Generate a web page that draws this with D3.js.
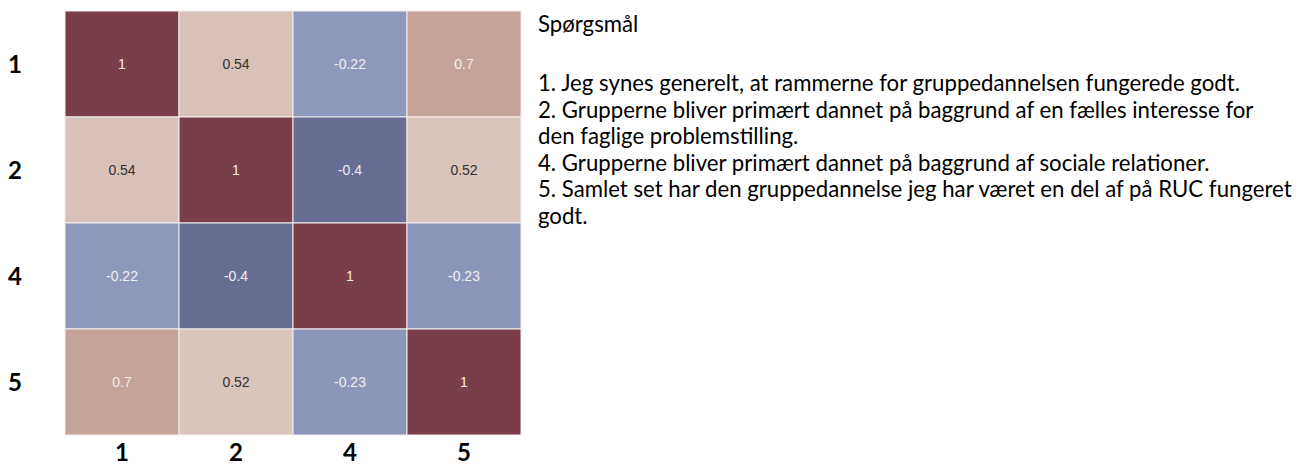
<!DOCTYPE html>
<html>
<head>
<meta charset="utf-8">
<script src="https://cdn.jsdelivr.net/npm/d3@7"></script>
<style>
  html, body { margin: 0; padding: 0; background: #fff; }
  svg { display: block; }
</style>
</head>
<body>
<svg id="chart" width="1312" height="467"></svg>
<script>
// Question numbers used on both axes
const questions = ["1", "2", "4", "5"];

// Correlation matrix, row by row (same order as the questions)
const row1 = [1, 0.54, -0.22, 0.7];
const row2 = [0.54, 1, -0.4, 0.52];
const row4 = [-0.22, -0.4, 1, -0.23];
const row5 = [0.7, 0.52, -0.23, 1];
const matrix = [row1, row2, row4, row5];

// Colour stops for the correlation values
const colorStops = [-0.4, -0.22, 0.52, 0.7, 1];
const colorRange = ["#676d93", "#8d98bb", "#d9c5bc", "#c4a39a", "#7a3e4b"];

// Legend text on the right
const legendTitle = "Spørgsmål";
const legendLines = [
  "1. Jeg synes generelt, at rammerne for gruppedannelsen fungerede godt.",
  "2. Grupperne bliver primært dannet på baggrund af en fælles interesse for",
  "den faglige problemstilling.",
  "4. Grupperne bliver primært dannet på baggrund af sociale relationer.",
  "5. Samlet set har den gruppedannelse jeg har været en del af på RUC fungeret",
  "godt."
];

const svg = d3.select("#chart");

const grid = { left: 65, top: 11, width: 456, height: 424 };

const x = d3.scaleBand().domain(questions).range([grid.left, grid.left + grid.width]).padding(0);
const y = d3.scaleBand().domain(questions).range([grid.top, grid.top + grid.height]).padding(0);
const color = d3.scaleLinear().domain(colorStops).range(colorRange).interpolate(d3.interpolateRgb);

const cells = [];
matrix.forEach((row, i) => row.forEach((v, j) => cells.push({ r: questions[i], c: questions[j], v })));

const g = svg.append("g");

g.selectAll("rect.cell")
  .data(cells)
  .join("rect")
  .attr("class", "cell")
  .attr("x", d => x(d.c))
  .attr("y", d => y(d.r))
  .attr("width", x.bandwidth())
  .attr("height", y.bandwidth())
  .attr("fill", d => color(d.v))
  .attr("stroke", "#f4eeee")
  .attr("stroke-width", 1);

g.selectAll("text.val")
  .data(cells)
  .join("text")
  .attr("class", "val")
  .attr("x", d => x(d.c) + x.bandwidth() / 2)
  .attr("y", d => y(d.r) + y.bandwidth() / 2)
  .attr("dy", "0.35em")
  .attr("text-anchor", "middle")
  .attr("font-family", "'Liberation Sans', Arial, sans-serif")
  .attr("font-size", 14)
  .attr("fill", d => (d.v > 0.3 && d.v < 0.6) ? "#333333" : "#f2eeee")
  .text(d => d.v);

const axisFont = "Lato, 'Open Sans', sans-serif";

// Row labels on the left
const yAxis = d3.axisLeft(y).tickSize(0).tickPadding(0);
const yg = svg.append("g").attr("transform", `translate(25,0)`).call(yAxis);
yg.select(".domain").remove();
yg.selectAll("text")
  .attr("text-anchor", "middle")
  .attr("x", -10)
  .attr("dy", "0.36em")
  .attr("font-family", axisFont)
  .attr("font-weight", "bold")
  .attr("font-size", 24)
  .attr("fill", "#000");

// Column labels below
const xAxis = d3.axisBottom(x).tickSize(0).tickPadding(0);
const xg = svg.append("g").attr("transform", `translate(0,${grid.top + grid.height})`).call(xAxis);
xg.select(".domain").remove();
xg.selectAll("text")
  .attr("y", 26)
  .attr("dy", "0")
  .attr("font-family", axisFont)
  .attr("font-weight", "bold")
  .attr("font-size", 24)
  .attr("fill", "#000");

// Question legend
const legend = svg.append("g").attr("transform", "translate(538,0)");
const legendFont = "Lato, 'Open Sans', sans-serif";
legend.append("text")
  .attr("class", "leg")
  .attr("x", 0).attr("y", 32)
  .text(legendTitle);
legend.selectAll("text.line")
  .data(legendLines)
  .join("text")
  .attr("class", "leg line")
  .attr("x", 0)
  .attr("y", (d, i) => 91 + i * 26.5)
  .text(d => d);

const legTexts = legend.selectAll("text.leg")
  .attr("font-family", legendFont)
  .attr("fill", "#000")
  .attr("font-size", 18);

// Size the legend so the longest sentence ends near the right edge
const widest = d3.max(legend.selectAll("text.line").nodes(), n => n.getComputedTextLength());
const fs = 18 * 754 / widest;
legTexts.attr("font-size", fs);
</script>
</body>
</html>
